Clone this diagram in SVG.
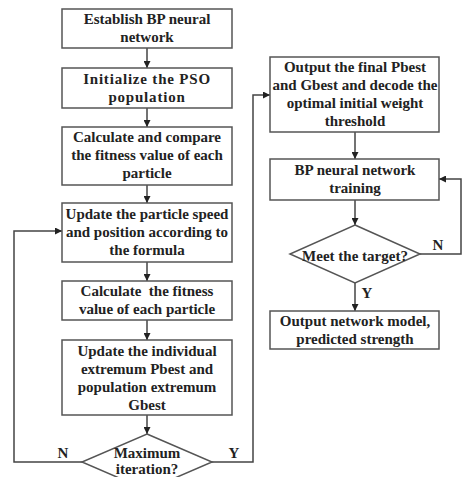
<svg xmlns="http://www.w3.org/2000/svg" width="462" height="477" viewBox="0 0 462 477">
<style>
.box{fill:#fff;stroke:#555;stroke-width:1.5}
.t{font-family:"Liberation Serif","Times New Roman",serif;font-weight:bold;font-size:15px;fill:#222;text-anchor:middle}
.c{fill:none;stroke:#444;stroke-width:1.5}
</style>
<defs>
<marker id="ah" viewBox="0 0 10 10" refX="10" refY="5" markerWidth="7" markerHeight="7" markerUnits="userSpaceOnUse" orient="auto">
<path d="M0,0 L10,5 L0,10 z" fill="#222"/>
</marker>
</defs>
<rect width="462" height="477" fill="#fff"/>
<g id="connectors">
<path class="c" d="M147,48 V68" marker-end="url(#ah)"/>
<path class="c" d="M147,108 V127" marker-end="url(#ah)"/>
<path class="c" d="M147,185 V203" marker-end="url(#ah)"/>
<path class="c" d="M147,262 V281" marker-end="url(#ah)"/>
<path class="c" d="M147,320 V340" marker-end="url(#ah)"/>
<path class="c" d="M147,415 V434" marker-end="url(#ah)"/>
<path class="c" d="M82,462 H14 V231 H62" marker-end="url(#ah)"/>
<path class="c" d="M212,462 H253 V95 H270" marker-end="url(#ah)"/>
<path class="c" d="M355,132 V159" marker-end="url(#ah)"/>
<path class="c" d="M355,200 V225" marker-end="url(#ah)"/>
<path class="c" d="M420,254 H461 V179 H439" marker-end="url(#ah)"/>
<path class="c" d="M355,283 V311" marker-end="url(#ah)"/>
<text class="t" x="63" y="458">N</text>
<text class="t" x="234" y="458">Y</text>
<text class="t" x="438" y="250">N</text>
<text class="t" x="367" y="298">Y</text>
</g>
<g id="n1"><rect class="box" x="62" y="9" width="170" height="39"/>
<text class="t" x="147" y="24">Establish BP neural</text><text class="t" x="147" y="42">network</text></g>
<g id="n2"><rect class="box" x="62" y="68" width="170" height="40"/>
<text class="t" x="147" y="84" letter-spacing="0.8">Initialize the PSO</text><text class="t" x="147" y="102" letter-spacing="0.8">population</text></g>
<g id="n3"><rect class="box" x="62" y="127" width="170" height="58"/>
<text class="t" x="147" y="142">Calculate and compare</text><text class="t" x="147" y="160">the fitness value of each</text><text class="t" x="147" y="178">particle</text></g>
<g id="n4"><rect class="box" x="62" y="203" width="170" height="59"/>
<text class="t" x="147" y="219">Update the particle speed</text><text class="t" x="147" y="237">and position according to</text><text class="t" x="147" y="255">the formula</text></g>
<g id="n5"><rect class="box" x="62" y="281" width="170" height="39"/>
<text class="t" x="147" y="296" xml:space="preserve">Calculate  the fitness</text><text class="t" x="147" y="314">value of each particle</text></g>
<g id="n6"><rect class="box" x="62" y="340" width="170" height="75"/>
<text class="t" x="147" y="356">Update the individual</text><text class="t" x="147" y="374">extremum Pbest and</text><text class="t" x="147" y="392">population extremum</text><text class="t" x="147" y="410">Gbest</text></g>
<g id="n7"><polygon class="box" points="147,434 212,462 147,490 82,462"/>
<text class="t" x="147" y="458">Maximum</text><text class="t" x="147" y="474">iteration?</text></g>
<g id="n8"><rect class="box" x="270" y="57" width="169" height="75"/>
<text class="t" x="355" y="72">Output the final Pbest</text><text class="t" x="355" y="90">and Gbest and decode the</text><text class="t" x="355" y="108">optimal initial weight</text><text class="t" x="355" y="126">threshold</text></g>
<g id="n9"><rect class="box" x="270" y="159" width="169" height="41"/>
<text class="t" x="355" y="175">BP neural network</text><text class="t" x="355" y="193">training</text></g>
<g id="n10"><polygon class="box" points="355,225 420,254 355,283 290,254"/>
<text class="t" x="355" y="261">Meet the target?</text></g>
<g id="n11"><rect class="box" x="270" y="311" width="169" height="38"/>
<text class="t" x="355" y="326">Output network model,</text><text class="t" x="355" y="344">predicted strength</text></g>
</svg>
